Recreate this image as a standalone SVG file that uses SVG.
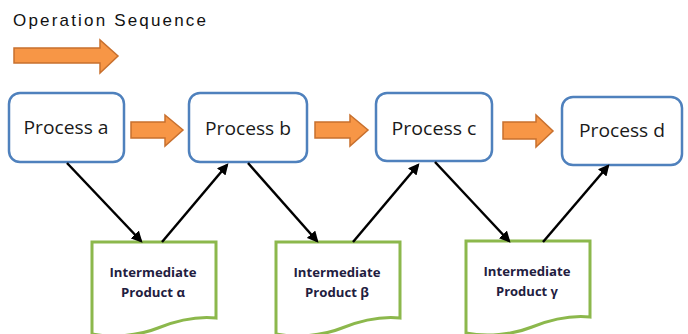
<svg xmlns="http://www.w3.org/2000/svg" width="688" height="334" viewBox="0 0 688 334">
<defs>
<style>
.proc{fill:#fff;stroke:#4F81BD;stroke-width:2.5}
.doc{fill:#fff;stroke:#8CB84C;stroke-width:3}
.oarr{fill:#F79646;stroke:#C8702E;stroke-width:1.5}
.ptxt{font-family:"Open Sans","Liberation Sans",sans-serif;font-size:17.5px;fill:#1a1a1a;text-anchor:middle}
.dtxt{font-family:"Open Sans","Liberation Sans",sans-serif;font-size:13px;font-weight:bold;fill:#1F2040;text-anchor:middle}
.title{font-family:"Liberation Sans","DejaVu Sans",sans-serif;font-size:17px;fill:#111}
.conn{stroke:#000;stroke-width:2.5;fill:none;marker-end:url(#ah)}
</style>
<marker id="ah" viewBox="0 0 10 10" refX="8" refY="5" markerWidth="4.5" markerHeight="4.5" orient="auto" markerUnits="strokeWidth">
<path d="M0,0 L10,5 L0,10 z" fill="#000"/>
</marker>
</defs>
<rect width="688" height="334" fill="#fff"/>
<g id="title">
<text class="title" x="13" y="26" textLength="193" lengthAdjust="spacing">Operation Sequence</text>
<path class="oarr" d="M14,48 H100 V40 L118,56 L100,73 V63 H14 Z"/>
</g>
<g id="seq-arrows">
<path class="oarr" d="M131,122 H165 V115 L183,130 L165,146 V138 H131 Z"/>
<path class="oarr" d="M315,122 H350 V115 L368,130 L350,146 V138 H315 Z"/>
<path class="oarr" d="M503,122 H536 V115 L553,131 L536,147 V139 H503 Z"/>
</g>
<g id="process-a">
<rect class="proc" x="9" y="93" width="115" height="69" rx="11"/>
<text class="ptxt" x="66" y="134" textLength="85" lengthAdjust="spacingAndGlyphs">Process a</text>
</g>
<g id="process-b">
<rect class="proc" x="189" y="93" width="118" height="69" rx="11"/>
<text class="ptxt" x="248" y="135" textLength="86" lengthAdjust="spacingAndGlyphs">Process b</text>
</g>
<g id="process-c">
<rect class="proc" x="376" y="93" width="116" height="68" rx="11"/>
<text class="ptxt" x="434" y="135" textLength="85" lengthAdjust="spacingAndGlyphs">Process c</text>
</g>
<g id="process-d">
<rect class="proc" x="562" y="97" width="120" height="68" rx="11"/>
<text class="ptxt" x="622" y="137" textLength="86" lengthAdjust="spacingAndGlyphs">Process d</text>
</g>
<g id="product-alpha">
<path class="doc" d="M92,242 H216 V318 C196,316 178,320 158,328 C138,336 112,338 92,334 Z"/>
<text class="dtxt" x="153" y="277" textLength="87" lengthAdjust="spacingAndGlyphs">Intermediate</text>
<text class="dtxt" x="153" y="297" textLength="64" lengthAdjust="spacingAndGlyphs">Product α</text>
</g>
<g id="product-beta">
<path class="doc" d="M276,242 H400 V318 C380,316 362,320 342,328 C322,336 296,338 276,334 Z"/>
<text class="dtxt" x="337" y="277" textLength="87" lengthAdjust="spacingAndGlyphs">Intermediate</text>
<text class="dtxt" x="337" y="297" textLength="64" lengthAdjust="spacingAndGlyphs">Product β</text>
</g>
<g id="product-gamma">
<path class="doc" d="M466,241 H590 V317 C570,315 552,319 532,327 C512,335 486,337 466,333 Z"/>
<text class="dtxt" x="527" y="276" textLength="87" lengthAdjust="spacingAndGlyphs">Intermediate</text>
<text class="dtxt" x="527" y="296" textLength="62" lengthAdjust="spacingAndGlyphs">Product γ</text>
</g>
<g id="connectors">
<line class="conn" x1="67" y1="163" x2="141" y2="241"/>
<line class="conn" x1="162" y1="242" x2="227" y2="165"/>
<line class="conn" x1="248" y1="163" x2="317" y2="241"/>
<line class="conn" x1="353" y1="242" x2="418" y2="165"/>
<line class="conn" x1="435" y1="162" x2="509" y2="241"/>
<line class="conn" x1="543" y1="242" x2="608" y2="166"/>
</g>
</svg>
